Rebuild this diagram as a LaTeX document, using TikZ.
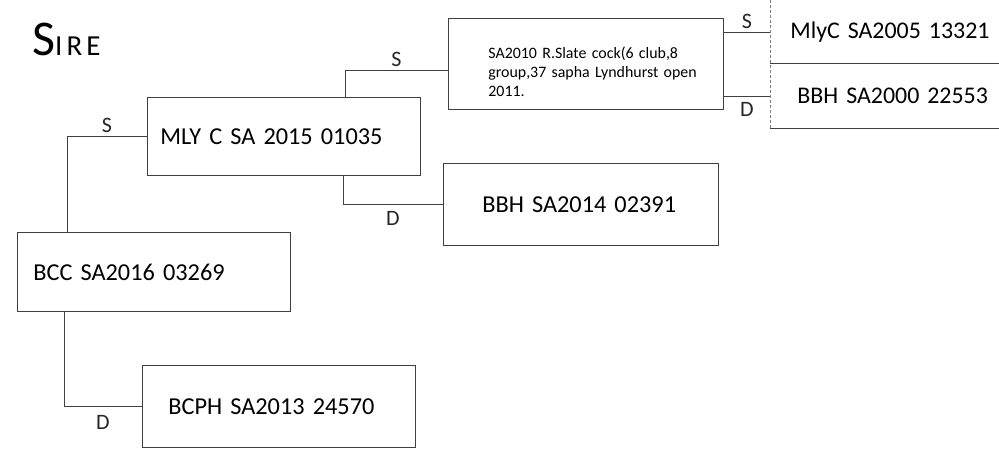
\documentclass[tikz,border=0pt]{standalone}
\usepackage{fontspec}
\setmainfont{Carlito}
\usetikzlibrary{shapes,arrows}

\begin{document}
\begin{tikzpicture}[x=1pt, y=-1pt]
	\tikzstyle{entry} = [rectangle, draw=black!75, line width=0.8pt, anchor=north west, align=left, inner xsep=0pt, inner ysep=0pt, font=\fontsize{24.3}{29}\selectfont]
	\tikzstyle{open} = [entry, draw=none, font=\fontsize{23.9}{29}\selectfont]
	\tikzstyle{link} = [draw=black!75, line width=0.8pt]
	\tikzstyle{faint} = [draw=black!50, line width=0.7pt, densely dashed]
	\tikzstyle{tag} = [font=\fontsize{22}{22}\selectfont, text=black!85]
	\tikzset{indent/.style={execute at begin node={\leftskip=#1\rightskip=0pt plus 1fil\relax}}}
	
	\useasboundingbox (0,0) rectangle (999,450);
	
	\node [anchor=base west, inner sep=0pt] (sire) at (32,55) {{\fontsize{50}{50}\selectfont S}{\fontsize{29}{29}\selectfont\addfontfeature{LetterSpace=14}IRE}};
	
	\node [entry, indent=16pt, text width=273pt, minimum height=79pt] (bcc) at (17,232) {BCC SA2016 03269};
	\node [entry, indent=13pt, text width=273pt, minimum height=78pt] (mlyc) at (147,97) {MLY C SA 2015 01035};
	\node [entry, indent=26pt, text width=273pt, minimum height=82pt] (bcph) at (142,365) {BCPH SA2013 24570};
	\node [entry, indent=40pt, text width=275pt, minimum height=91pt, text height=27pt, font=\fontsize{15.9}{19.2}\selectfont] (slate) at (448,18) {SA2010 R.Slate cock(6 club,8\\group,37 sapha Lyndhurst open\\2011.};
	\node [entry, indent=39pt, text width=275pt, minimum height=82pt] (bbh14) at (443,163) {BBH SA2014 02391};
	\node [open, indent=20pt, text width=229pt, minimum height=63pt] (mlyc05) at (770,0) {MlyC SA2005 13321};
	\node [open, indent=27pt, text width=229pt, minimum height=65pt] (bbh00) at (770,63) {BBH SA2000 22553};
	
	% open boxes on the right
	\draw [faint] (mlyc05.north west) -- (bbh00.south west);
	\draw [link] (mlyc05.south west) -- (mlyc05.south east);
	\draw [link] (bbh00.south west) -- (bbh00.south east);
	
	\path [link] ([xshift=50pt]bcc.north west) |- (mlyc.west) node [tag, pos=0.75, above] {S};
	\path [link] ([xshift=47pt]bcc.south west) |- (bcph.west) node [tag, pos=0.75, below=5pt] {D};
	\path [link] ([xshift=198pt]mlyc.north west) |- ([yshift=-6pt]slate.west) node [tag, pos=0.75, above] {S};
	\path [link] ([xshift=196pt]mlyc.south west) |- (bbh14.west) node [tag, pos=0.75, below=3pt] {D};
	\path [link] (slate.east |- mlyc05.west) -- (mlyc05.west) node [tag, midway, above] {S};
	\path [link] (slate.east |- bbh00.west) -- (bbh00.west) node [tag, midway, below=3pt] {D};
	
\end{tikzpicture}
\end{document}
